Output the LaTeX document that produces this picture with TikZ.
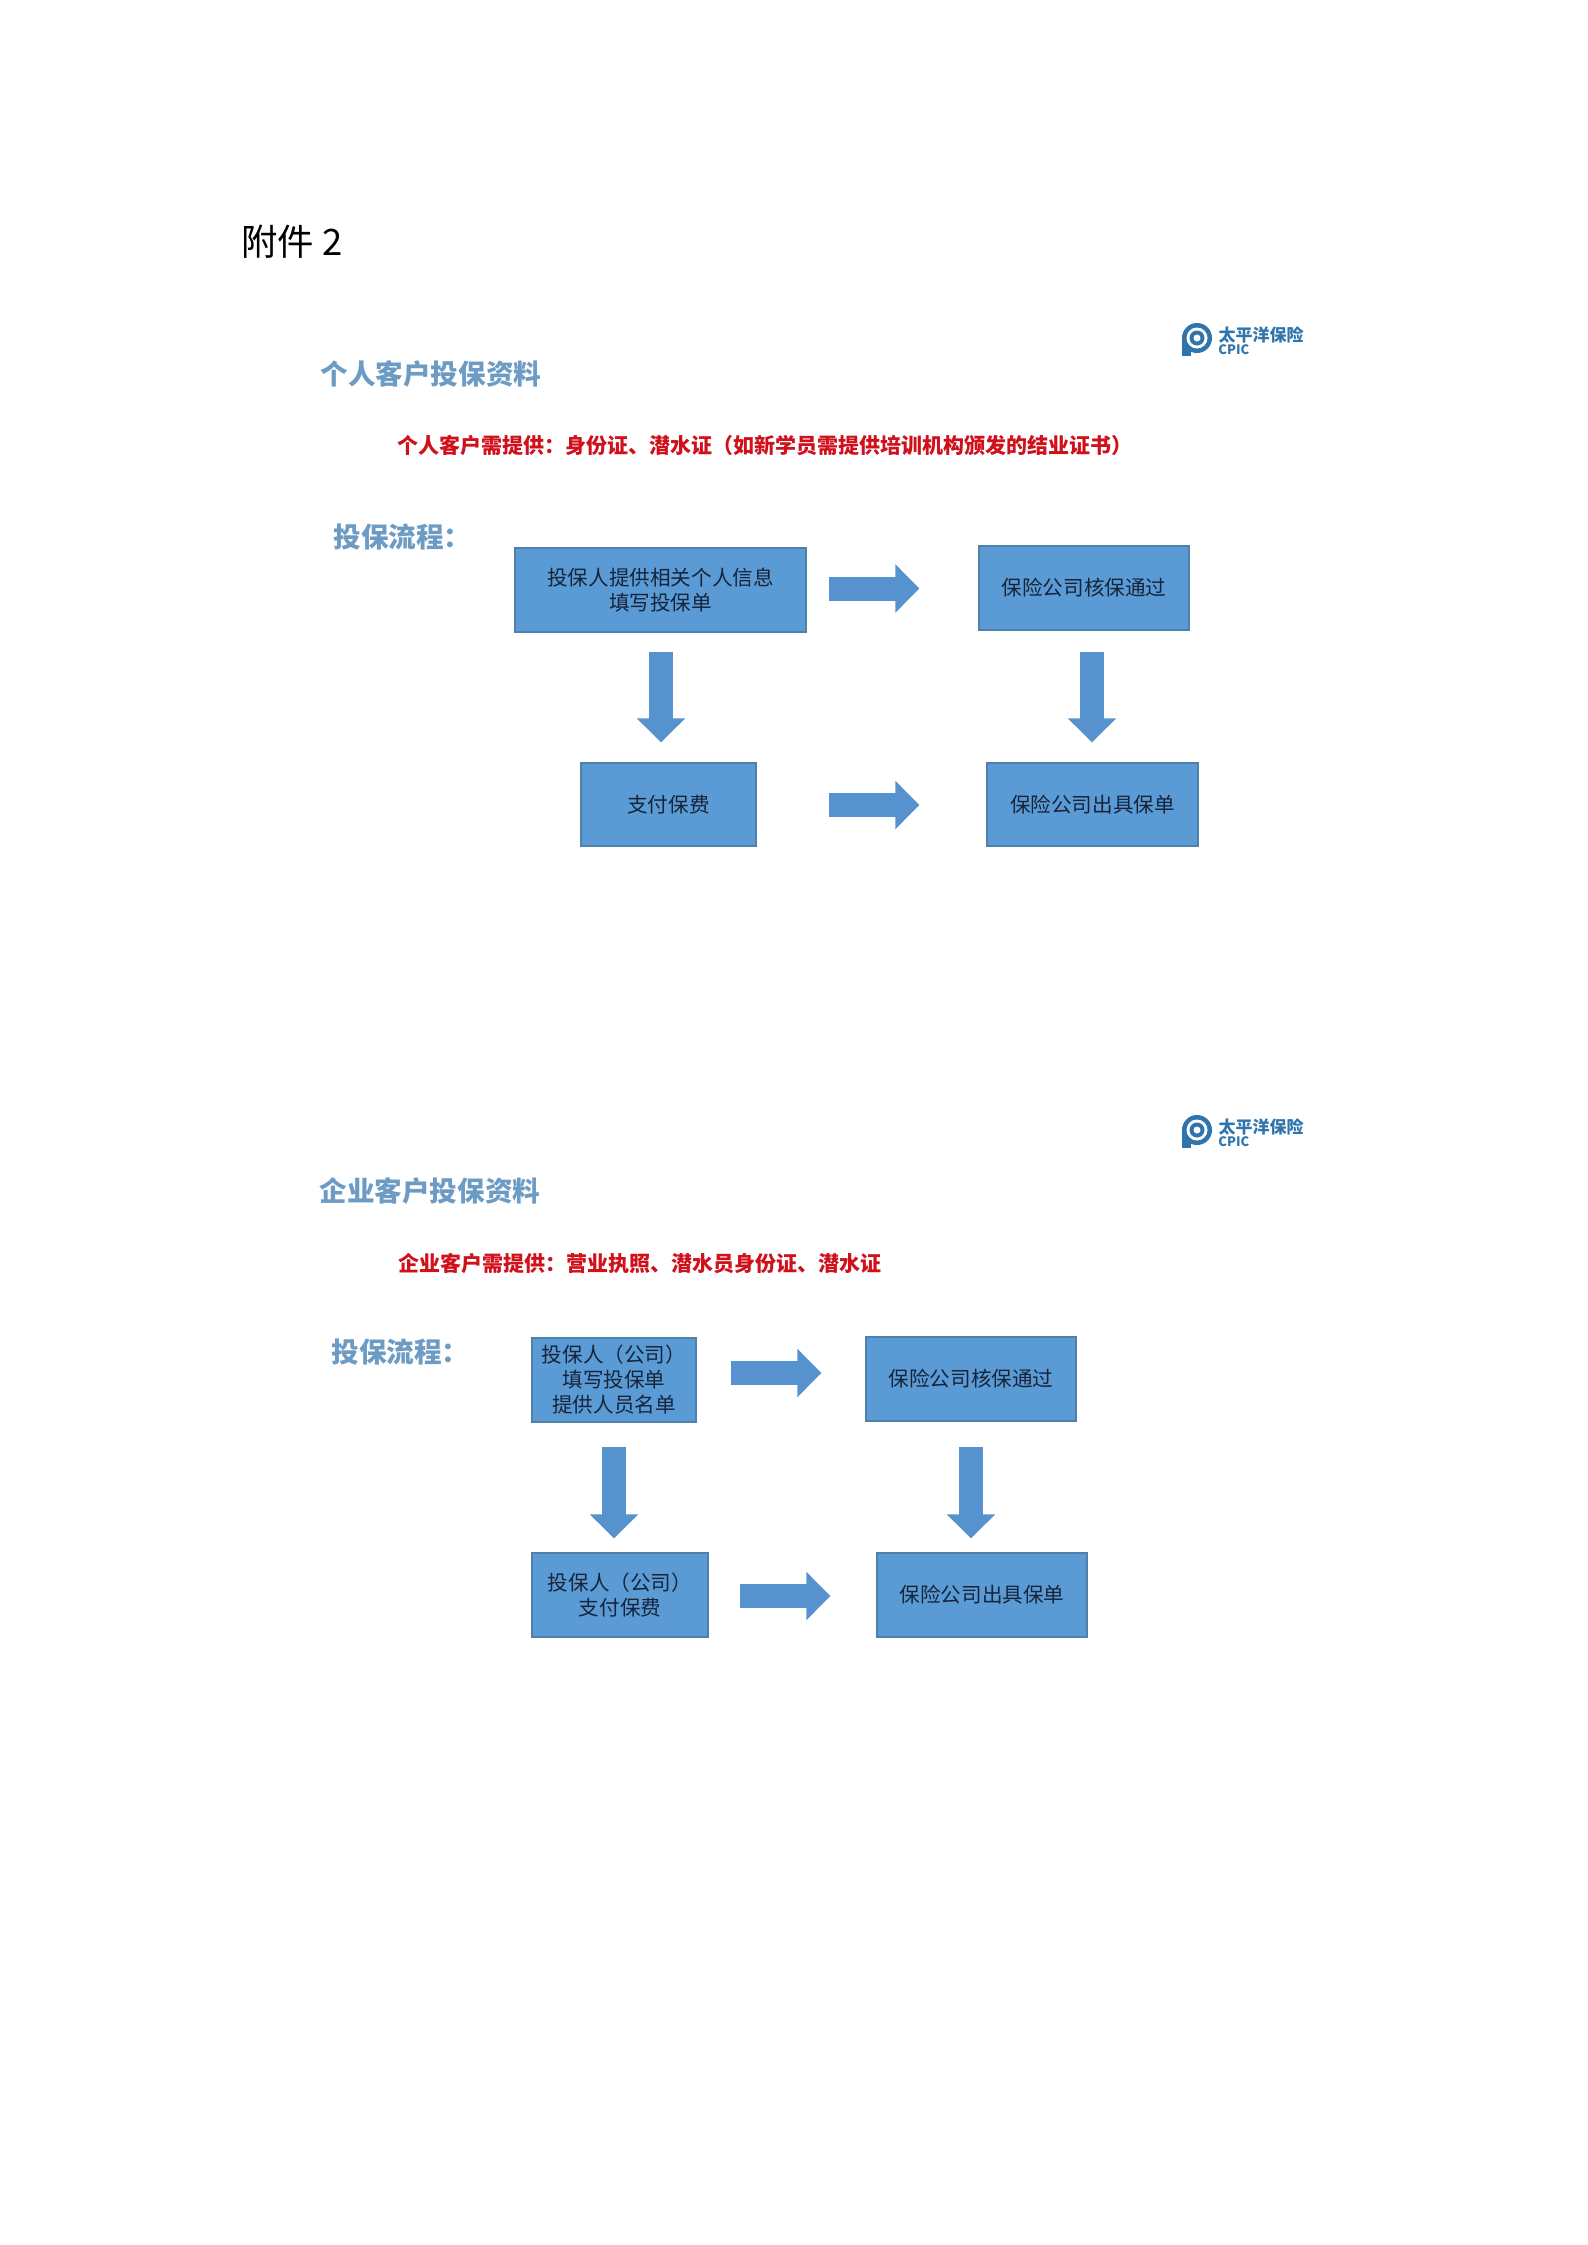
\documentclass[tikz,border=0pt]{standalone}
\usepackage{fontspec}
\setmainfont{Noto Sans CJK SC}
\usetikzlibrary{arrows.meta}
\definecolor{boxfill}{HTML}{5B9BD5}
\definecolor{boxline}{HTML}{4F80AC}
\definecolor{arrowfill}{HTML}{5693CE}
\definecolor{headblue}{HTML}{6C9BC4}
\definecolor{needred}{HTML}{D0101A}
\definecolor{inktext}{HTML}{16243A}
\definecolor{logoblue}{HTML}{2F74AC}
\tikzset{
  flowbox/.style={draw=boxline,fill=boxfill,line width=0.65pt,inner sep=0pt,
    text=inktext,align=center,font=\fontsize{10.3}{12.5}\selectfont},
  flow/.style={draw=arrowfill,line width=12pt,shorten <=-0.5pt,shorten >=-0.5pt,
    -{Triangle[length=12pt,width=23.5pt,fill=arrowfill]}},
  heading/.style={anchor=west,inner sep=0pt,text=headblue,font=\fontsize{13.8}{16}\selectfont\bfseries},
  need/.style={anchor=west,inner sep=0pt,text=needred,font=\fontsize{10.5}{12}\selectfont\bfseries},
  cpiclogo/.pic={
    \fill[logoblue] (15,15) circle[radius=15];
    \fill[logoblue] (0,12) rectangle (9,33);
    \fill[white] (15,15) circle[radius=10.5];
    \fill[logoblue] (15,15) circle[radius=7.5];
    \fill[white] (15,15) circle[radius=3.5];
    \node[anchor=center,inner sep=0pt,text=logoblue,font=\fontsize{8.5}{10}\selectfont\bfseries] (-cn) at (79,12) {太平洋保险};
    \node[anchor=west,inner sep=0pt,text=logoblue,font=\fontsize{6.5}{8}\selectfont\bfseries] (-en) at (36,27) {CPIC};
  }
}
\begin{document}
\begin{tikzpicture}[x=0.5pt,y=-0.5pt]
\useasboundingbox (0,0) rectangle (1587,2245);
\node[anchor=west,inner sep=0pt,font=\fontsize{18.2}{20}\selectfont] (att) at (241,241.5) {附件 2};

% personal
\pic (logoA) at (1182,323) {cpiclogo};
\node[heading] (h1) at (320,374) {个人客户投保资料};
\node[need] (n1) at (397.5,445.5) {个人客户需提供：身份证、潜水证（如新学员需提供培训机构颁发的结业证书）};
\node[heading] (p1) at (333,537) {投保流程：};
\node[flowbox,minimum width=145.5pt,minimum height=42pt] (box1) at (660.5,590) {投保人提供相关个人信息\\填写投保单};
\node[flowbox,minimum width=105pt,minimum height=42pt] (box2) at (1084,588) {保险公司核保通过};
\node[flowbox,minimum width=87.5pt,minimum height=41.5pt] (box3) at (668.5,804.5) {支付保费};
\node[flowbox,minimum width=105.5pt,minimum height=41.5pt] (box4) at (1092.5,804.5) {保险公司出具保单};
\draw[flow] ([shift={(23,-1.5)}]box1.east) -- ([shift={(-60,0.5)}]box2.west);
\draw[flow] ([shift={(73,0.5)}]box3.east) -- ([shift={(-68,0.5)}]box4.west);
\draw[flow] ([shift={(0.5,20)}]box1.south) -- ([shift={(-7.5,-21)}]box3.north);
\draw[flow] ([shift={(8,22)}]box2.south) -- ([shift={(-0.5,-21)}]box4.north);

% company
\pic (logoB) at (1182,1115) {cpiclogo};
\node[heading] (h2) at (319,1191) {企业客户投保资料};
\node[need] (n2) at (398.5,1263.5) {企业客户需提供：营业执照、潜水员身份证、潜水证};
\node[heading] (p2) at (331,1352) {投保流程：};
\node[flowbox,minimum width=82pt,minimum height=42pt] (box5) at (614,1380) {投保人（公司）\\填写投保单\\提供人员名单};
\node[flowbox,minimum width=105pt,minimum height=42pt] (box6) at (971,1379) {保险公司核保通过};
\node[flowbox,minimum width=88pt,minimum height=42pt] (box7) at (620,1595) {投保人（公司）\\支付保费};
\node[flowbox,minimum width=105pt,minimum height=42pt] (box8) at (982,1595) {保险公司出具保单};
\draw[flow] ([shift={(35,-7)}]box5.east) -- ([shift={(-45,-6)}]box6.west);
\draw[flow] ([shift={(32,1)}]box7.east) -- ([shift={(-47,1)}]box8.west);
\draw[flow] ([shift={(0,25)}]box5.south) -- ([shift={(-6,-15)}]box7.north);
\draw[flow] ([shift={(0,26)}]box6.south) -- ([shift={(-11,-15)}]box8.north);
\end{tikzpicture}
\end{document}
